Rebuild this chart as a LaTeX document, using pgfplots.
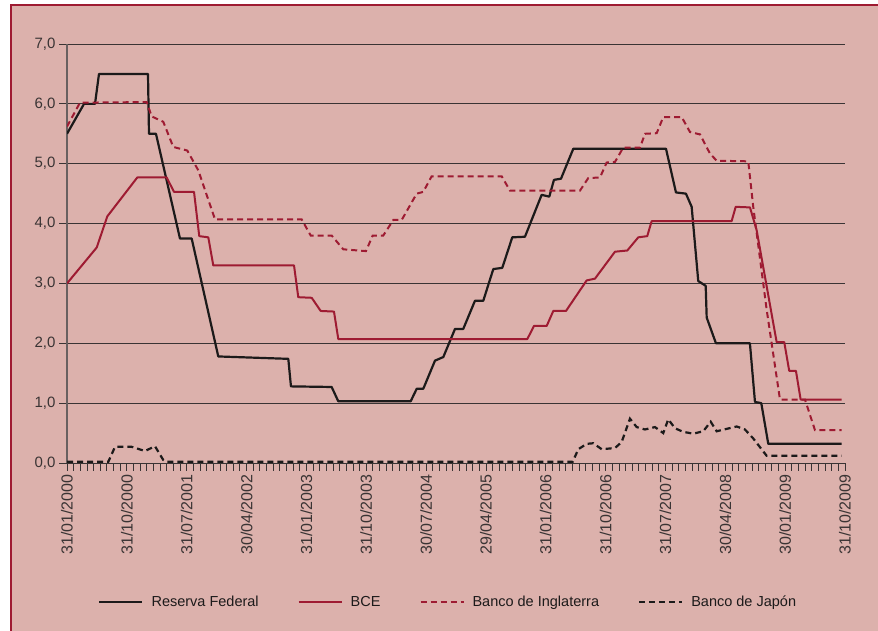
\documentclass[border=0pt]{standalone}
\usepackage{pgfplots}
\pgfplotsset{compat=1.18}
\usepackage{fontspec}
\setmainfont{Liberation Sans}
\definecolor{bg}{RGB}{220,177,172}
\definecolor{rojo}{RGB}{158,27,50}
\definecolor{grisg}{RGB}{58,52,52}
\definecolor{grisax}{RGB}{105,96,96}
\definecolor{negro}{RGB}{28,26,26}
\begin{document}
\begin{tikzpicture}[x=1pt,y=1pt]
\path[use as bounding box, fill=white] (0,0) rectangle (878,631);
\fill[bg] (11,0) rectangle (878,626);
\draw[rojo, line width=2pt] (11,0) -- (11,626) -- (878,626);
\begin{axis}[
  at={(67pt,168pt)}, anchor=south west,
  scale only axis, width=778pt, height=419pt,
  xmin=0, xmax=117, ymin=0, ymax=7,
  axis x line*=bottom, axis y line*=left,
  x axis line style={grisg, line width=0.9pt},
  y axis line style={grisax, line width=1.2pt},
  ytick={0,1,...,7},
  yticklabels={{0,0},{1,0},{2,0},{3,0},{4,0},{5,0},{6,0},{7,0}},
  xtick={0,9,...,117},
  xticklabels={31/01/2000,31/10/2000,31/07/2001,30/04/2002,31/01/2003,31/10/2003,30/07/2004,29/04/2005,31/01/2006,31/10/2006,31/07/2007,30/04/2008,30/01/2009,31/10/2009},
  minor x tick num=8,
  tick align=outside,
  major tick length=8pt, minor tick length=8pt,
  xtick style={grisg, line width=0.8pt},
  minor tick style={grisg, line width=0.8pt},
  ytick style={grisg, line width=0.8pt},
  ymajorgrids, grid style={grisg, line width=0.8pt},
  yticklabel style={font=\fontsize{15}{17}\selectfont, text=grisg},
  xticklabel style={rotate=90, anchor=east, font=\fontsize{16}{18}\selectfont, text=grisg},
  legend style={at={(0.49,-0.332)}, anchor=center, draw=none, fill=none,
    legend columns=4, font=\fontsize{14.5}{17}\selectfont, text=negro,
    /tikz/every even column/.append style={column sep=37pt}},
  legend image code/.code={\draw[#1] (0pt,0pt) -- (43pt,0pt); \path (49pt,0pt);},
]
% Reserva Federal
\addplot[negro, line width=2.2pt, line join=round] coordinates {
(0,5.5) (2.56,6.0) (4.21,6.0) (4.81,6.5) (12.18,6.5) (12.33,5.5) (13.38,5.5)
(16.99,3.75) (18.75,3.75) (22.75,1.78) (33.28,1.74) (33.68,1.28) (39.8,1.27)
(40.8,1.03) (51.68,1.03) (52.59,1.24) (53.58,1.24) (55.34,1.71) (56.59,1.77)
(58.35,2.24) (59.59,2.24) (61.35,2.71) (62.6,2.71) (64.11,3.24) (65.46,3.26)
(66.96,3.77) (68.87,3.78) (71.38,4.48) (72.53,4.45) (73.23,4.73) (74.29,4.75)
(76.14,5.25) (90.08,5.25) (91.58,4.52) (93.08,4.5) (93.94,4.28) (94.93,3.04)
(96.05,2.96) (96.2,2.43) (97.59,2.0) (102.7,2.0) (103.46,1.02) (104.41,1.0)
(105.46,0.32) (116.5,0.32)
};
\addlegendentry{Reserva Federal}
% BCE
\addplot[rojo, line width=2pt, line join=round] coordinates {
(0,3.0) (4.47,3.6) (6.06,4.12) (10.57,4.77) (14.99,4.77) (16.09,4.53) (19.1,4.53)
(19.89,3.79) (21.25,3.77) (22.0,3.3) (34.14,3.3) (34.78,2.77) (36.8,2.76)
(38.15,2.54) (40.15,2.53) (40.8,2.07) (69.22,2.07) (70.23,2.29) (72.14,2.29)
(73.13,2.54) (75.04,2.54) (78.15,3.05) (79.4,3.08) (82.41,3.53) (84.26,3.55)
(85.91,3.77) (87.26,3.79) (87.92,4.04) (99.95,4.04) (100.56,4.28) (102.71,4.27)
(103.71,3.89) (106.72,2.02) (107.86,2.02) (108.61,1.54) (109.62,1.54)
(110.33,1.06) (116.5,1.06)
};
\addlegendentry{BCE}
% Banco de Inglaterra
\addplot[rojo, line width=2pt, dash pattern=on 6pt off 4pt] coordinates {
(0,5.62) (1.95,6.02) (11.98,6.03) (12.74,5.79) (14.48,5.7) (15.98,5.28)
(18.09,5.22) (19.74,4.89) (22.26,4.07) (35.29,4.07) (36.65,3.8) (39.8,3.8)
(41.55,3.57) (44.96,3.54) (45.97,3.8) (47.56,3.8) (49.07,4.06) (50.33,4.06)
(52.59,4.5) (53.58,4.53) (54.84,4.79) (65.37,4.79) (66.62,4.55) (77.14,4.55)
(78.39,4.76) (80.15,4.77) (81.16,5.02) (82.41,5.03) (83.65,5.27) (86.17,5.27)
(86.92,5.5) (88.68,5.51) (89.67,5.78) (92.44,5.78) (93.68,5.53) (95.19,5.49)
(96.69,5.17) (97.7,5.05) (102.45,5.04) (103.2,4.28) (105.22,2.56)
(107.22,1.06) (110.98,1.06) (112.48,0.55) (116.5,0.55)
};
\addlegendentry{Banco de Inglaterra}
% Banco de Japon
\addplot[negro, line width=2.2pt, dash pattern=on 6pt off 4pt] coordinates {
(0,0.02) (6.21,0.02) (7.22,0.27) (9.73,0.27) (11.73,0.2) (13.23,0.28)
(14.48,0.05) (14.99,0.02) (76.05,0.02) (76.89,0.23) (78.15,0.32) (79.14,0.33)
(80.41,0.23) (82.41,0.25) (83.41,0.35) (84.66,0.74) (85.67,0.6) (86.92,0.56)
(88.42,0.6) (89.67,0.5) (90.42,0.73) (91.43,0.58) (92.68,0.52) (94.18,0.49)
(95.68,0.53) (96.8,0.69) (97.7,0.53) (99.2,0.57) (100.71,0.61) (101.95,0.56)
(103.2,0.41) (105.22,0.12) (116.5,0.12)
};
\addlegendentry{Banco de Japón}
\end{axis}
\end{tikzpicture}
\end{document}
